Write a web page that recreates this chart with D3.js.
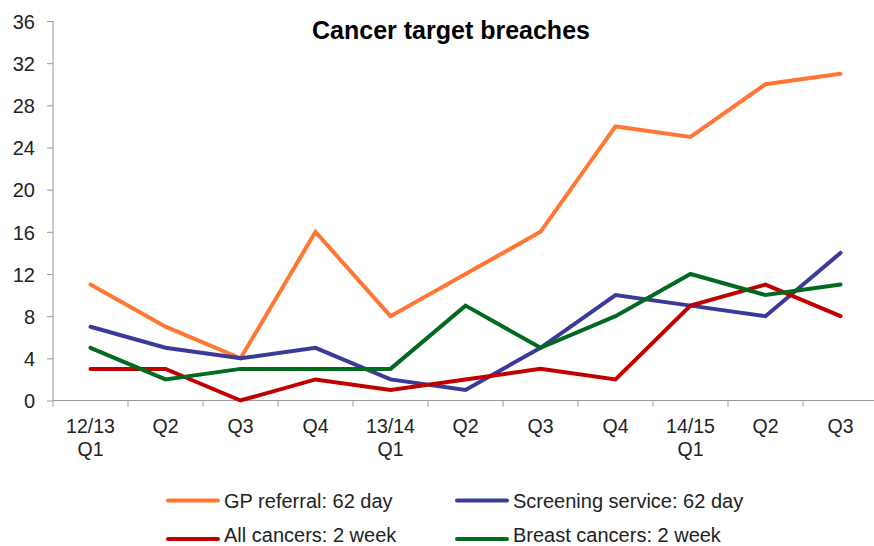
<!DOCTYPE html>
<html><head><meta charset="utf-8">
<script src="https://cdn.jsdelivr.net/npm/d3@7"></script>
<style>body{margin:0;background:#fff}svg{display:block;font-family:"Liberation Sans",Arial,sans-serif}</style>
</head><body><svg id="c" width="874" height="546"></svg>
<script>
const categories = [["12/13","Q1"],["Q2"],["Q3"],["Q4"],["13/14","Q1"],["Q2"],["Q3"],["Q4"],["14/15","Q1"],["Q2"],["Q3"]];
const gpReferral = [11,7,4,16,8,12,16,26,25,30,31];
const screening = [7,5,4,5,2,1,5,10,9,8,14];
const allCancers = [3,3,0,2,1,2,3,2,9,11,8];
const breastCancers = [5,2,3,3,3,9,5,8,12,10,11];
const yTicks = [0,4,8,12,16,20,24,28,32,36];
const seriesNames = ["GP referral: 62 day","Screening service: 62 day","All cancers: 2 week","Breast cancers: 2 week"];
const colors = ["#FF7733","#3A3A98","#C00000","#006B1E"];
const seriesData = [gpReferral, screening, allCancers, breastCancers];

const svg = d3.select("#c");
const x = d3.scaleBand().domain(d3.range(categories.length)).range([53,878]);
const y = d3.scaleLinear().domain([0,36]).range([400.5,21]);

// y axis
const ya = svg.append("g").attr("transform","translate(53,0)")
  .call(d3.axisLeft(y).tickValues(yTicks).tickSize(6).tickPadding(12).tickFormat(d3.format("d")));
ya.selectAll("text").attr("font-size",20).attr("fill","#222").attr("font-family","Liberation Sans, Arial, sans-serif").attr("dy","0.36em");
ya.selectAll("line,path").attr("stroke","#999");
ya.select("path").attr("d","M0,21V400.5");

// x axis
const xa = svg.append("g").attr("transform","translate(0,400.5)");
xa.append("line").attr("x1",53).attr("x2",878).attr("stroke","#999");
const bounds = d3.range(categories.length+1).map(i => i<categories.length ? x(i) : x(i-1)+x.bandwidth());
xa.selectAll("line.t").data(bounds).join("line").attr("class","t")
  .attr("x1",d=>d).attr("x2",d=>d).attr("y1",0).attr("y2",6).attr("stroke","#999");
const lbl = xa.selectAll("text.c").data(categories).join("text").attr("class","c")
  .attr("text-anchor","middle").attr("font-size",19.5).attr("fill","#222");
lbl.each(function(d,i){
  const t = d3.select(this);
  d.forEach((s,j)=>{
    t.append("tspan").attr("x", x(i)+x.bandwidth()/2).attr("y", 32.5 + j*22.5).text(s);
  });
});

// lines
const line = d3.line().x((d,i)=>x(i)+x.bandwidth()/2).y(d=>y(d));
seriesData.forEach((s,k)=>{
  svg.append("path").datum(s).attr("d",line).attr("fill","none")
    .attr("stroke",colors[k]).attr("stroke-width",4).attr("stroke-linejoin","miter").attr("stroke-linecap","round");
});

// title
svg.append("text").attr("x",451).attr("y",39).attr("text-anchor","middle")
  .attr("font-size",25).attr("font-weight","bold").attr("fill","#000").text("Cancer target breaches");

// legend
const legPos = [[168,500.5,507.5],[457,500.5,507.5],[168,539,542],[457,539,542]];
seriesNames.forEach((n,k)=>{
  const [lx,ly,ty] = legPos[k];
  svg.append("line").attr("x1",lx).attr("x2",lx+50).attr("y1",ly).attr("y2",ly)
    .attr("stroke",colors[k]).attr("stroke-width",4).attr("stroke-linecap","round");
  svg.append("text").attr("x",lx+56).attr("y",ty).attr("font-size",20).attr("fill","#222").text(n);
});
</script></body></html>
